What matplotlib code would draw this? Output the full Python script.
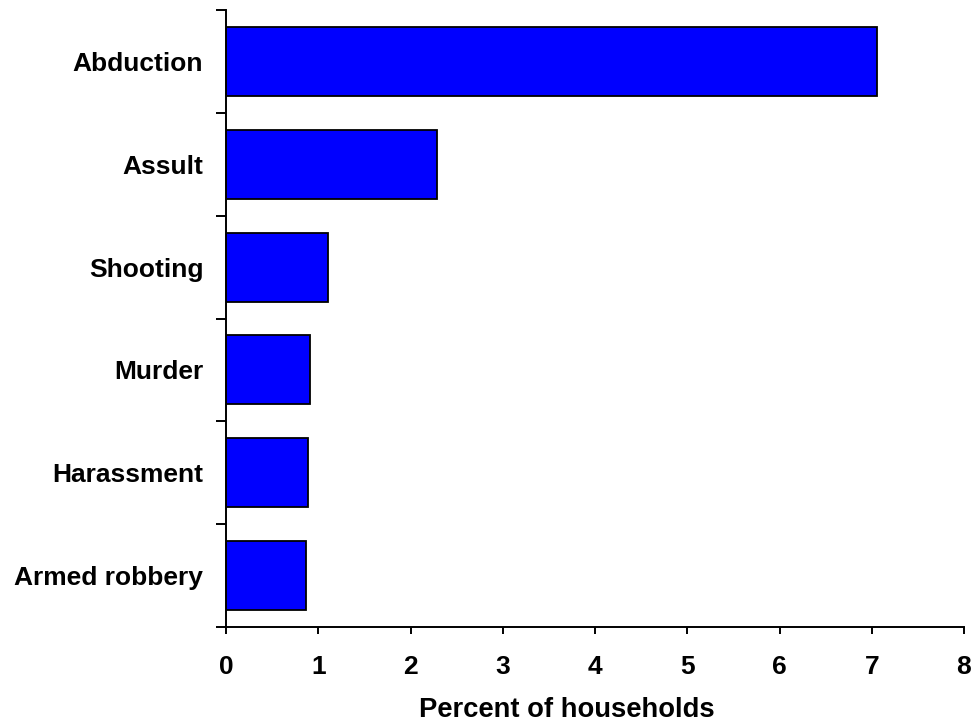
import numpy as np
from matplotlib import pyplot as plt

plt.rcParams['font.family'] = ['Liberation Sans', 'DejaVu Sans']
plt.rcParams['font.weight'] = 'bold'

categories = ["Abduction", "Assult", "Shooting", "Murder", "Harassment", "Armed robbery"]
values = [7.06, 2.28, 1.10, 0.91, 0.89, 0.87]
x_ticks = [0, 1, 2, 3, 4, 5, 6, 7, 8]

fig = plt.figure(figsize=(9.74, 7.22), dpi=100)
ax = fig.add_axes([0.2323, 0.1316, 0.9897 - 0.2323, 0.9861 - 0.1316])

# top category first
ypos = np.arange(len(categories))[::-1]
ax.barh(ypos, values, height=0.67, color="#0000FF", edgecolor="black", linewidth=1.3)

ax.set_xlim(0, 8)
ax.set_ylim(-0.5, len(categories) - 0.5)

ax.set_xticks(x_ticks)
ax.set_xticklabels([str(t) for t in x_ticks], fontsize=19, fontweight="bold")
ax.set_yticks(ypos)
ax.set_yticklabels(categories, fontsize=19, fontweight="bold")
ax.set_yticks(np.arange(-0.5, len(categories)), minor=True)

ax.tick_params(axis="y", which="major", length=0, pad=16.5)
ax.tick_params(axis="y", which="minor", length=7, width=1.4, direction="out")
ax.tick_params(axis="x", which="major", length=5, width=1.4, direction="out", pad=15.5)

for side in ["top", "right"]:
    ax.spines[side].set_visible(False)
for side in ["left", "bottom"]:
    ax.spines[side].set_linewidth(1.4)

ax.set_xlabel("Percent of households", fontsize=19.7, fontweight="bold", labelpad=12.5)
ax.xaxis.label.set_x(0.462)

fig.savefig("out.png", dpi=100)
